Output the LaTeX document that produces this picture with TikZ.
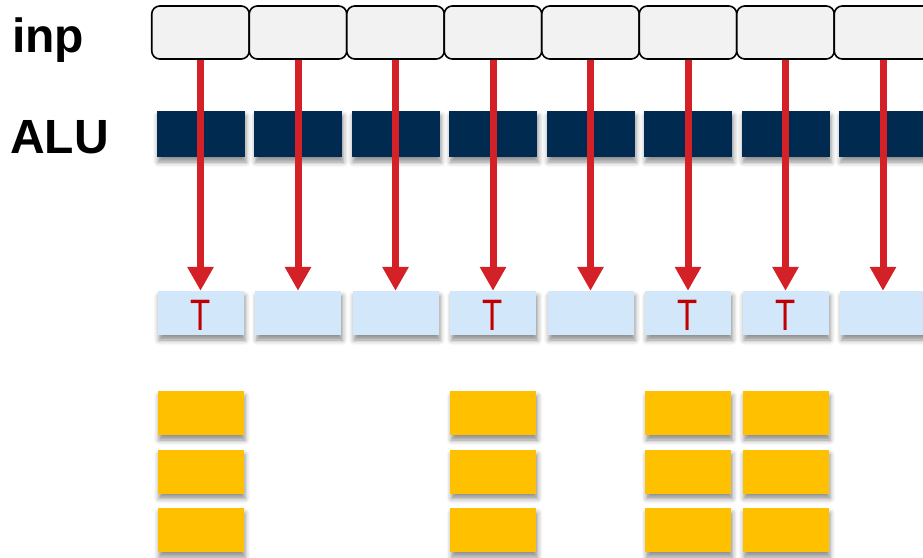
\documentclass[tikz,border=0pt]{standalone}
\usepackage{fontspec}
\setmainfont{Liberation Sans}
\usetikzlibrary{arrows.meta, shadows.blur}
\definecolor{navy}{HTML}{002A4F}
\definecolor{lane}{HTML}{F2F2F2}
\definecolor{tagblue}{HTML}{D3E7FA}
\definecolor{gold}{HTML}{FFC000}
\definecolor{flowred}{HTML}{D42027}
\definecolor{tred}{HTML}{C00000}

\begin{document}
\begin{tikzpicture}[x=1pt, y=-1pt,
  sh/.style={blur shadow={shadow xshift=1.5pt, shadow yshift=-5pt, shadow blur radius=5pt, shadow opacity=45}},
  inpbox/.style={draw=black, line width=1.6pt, fill=lane, rounded corners=8pt, minimum width=97.5pt, minimum height=53pt, inner sep=0pt},
  alubox/.style={fill=navy, minimum width=88pt, minimum height=46pt, inner sep=0pt, sh},
  tagbox/.style={fill=tagblue, minimum width=86pt, minimum height=44pt, inner sep=0pt, sh},
  outbox/.style={fill=gold, minimum width=86pt, minimum height=44pt, inner sep=0pt, sh},
  flow/.style={draw=flowred, line width=7pt, -{Triangle[width=25pt, length=24pt]}},
  rowlabel/.style={anchor=base west, inner sep=0pt, font=\bfseries\fontsize{48}{48}\selectfont}]
\useasboundingbox (0,0) rectangle (923,557);
\clip (0,0) rectangle (923,557);

\node[rowlabel] (inp) at (12,52) {inp};
\node[rowlabel] (alu) at (10,153) {ALU};

\foreach \i in {1,...,8}{
\pgfmathsetmacro\cx{200.5+97.5*(\i-1)}
\node[inpbox] (in\i) at (\cx,32.5) {};
\node[alubox] (alu\i) at (\cx,134) {};
\node[tagbox] (tag\i) at (\cx,313) {};
}
\foreach \i in {1,...,8}{
\draw[flow] (in\i.south) -- (tag\i.north);
}
% lanes that are active
\foreach \i in {1,4,6,7}{
\node[text=tred, font=\fontsize{44}{44}\selectfont, inner sep=0pt] (t\i) at ([yshift=-2pt]tag\i) {\scalebox{0.75}[1]{T}};
\foreach \j in {1,2,3}{
\node[outbox] (out\i\j) at ([yshift=-(100+58.5*(\j-1))*1pt]tag\i) {};
}
}
\end{tikzpicture}
\end{document}
